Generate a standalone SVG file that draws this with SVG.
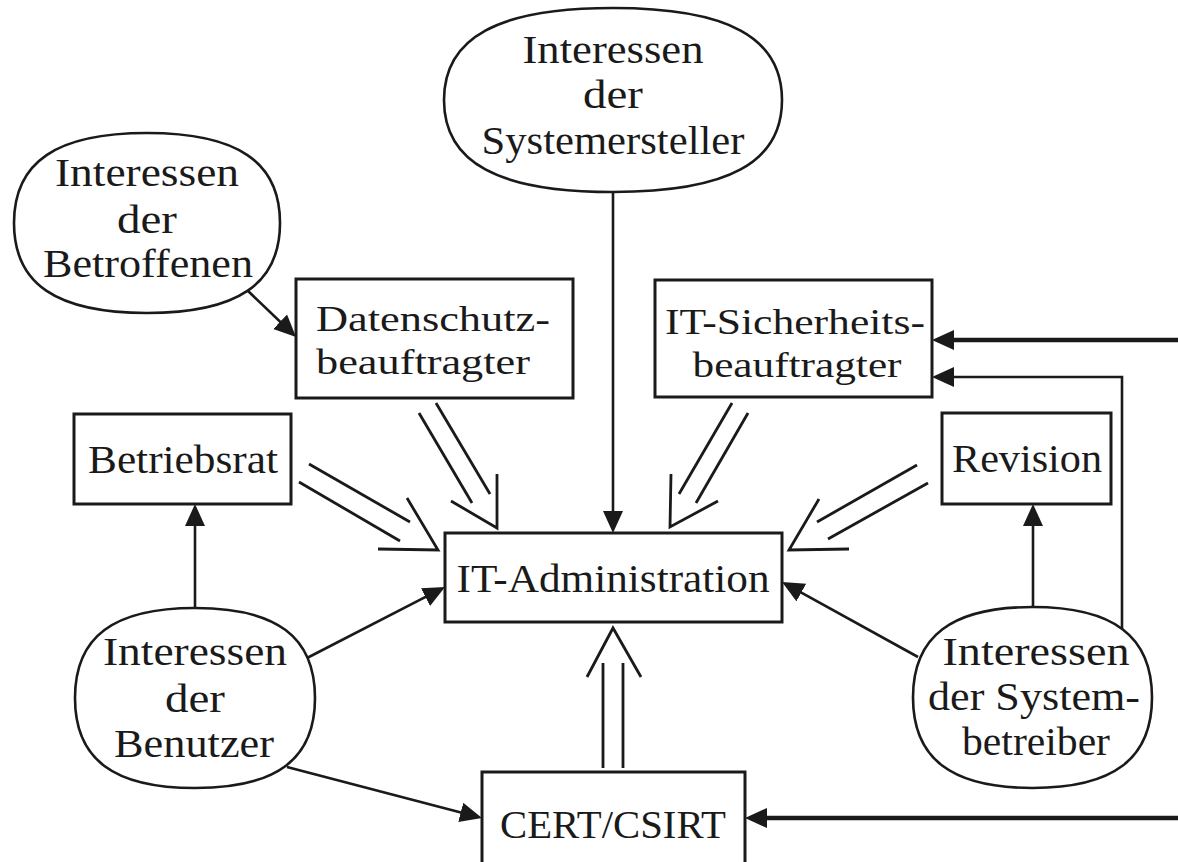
<svg xmlns="http://www.w3.org/2000/svg" width="1178" height="862" viewBox="0 0 1178 862">
<style>
.bg{fill:#ffffff}
.box{fill:#ffffff;stroke:#1a1a1a;stroke-width:3}
.oval{fill:#ffffff;stroke:#1a1a1a;stroke-width:2.6}
.t{font-family:"Liberation Serif","Times New Roman",serif;font-size:41px;fill:#1a1a1a;text-anchor:middle}
.s{font-size:36px}
.tl{text-anchor:start}
.c{fill:none;stroke:#1a1a1a;stroke-width:2.6}
.thick{stroke-width:4.6}
.dbl{fill:none;stroke:#1a1a1a;stroke-width:2.8;stroke-linecap:butt;stroke-linejoin:miter}
</style>
<defs>
<marker id="ah" markerUnits="userSpaceOnUse" markerWidth="22" markerHeight="22" refX="16" refY="10" orient="auto">
<path d="M0,0 L22,10 L0,20 Z" fill="#1a1a1a"/>
</marker>
</defs>
<rect class="bg" x="0" y="0" width="1178" height="862"/>

<g id="connectors">
<line class="c" x1="613" y1="192" x2="613" y2="527" marker-end="url(#ah)"/>
<line class="c" x1="247" y1="290" x2="291.7" y2="332.8" marker-end="url(#ah)"/>
<line class="c" x1="195" y1="608" x2="195" y2="510" marker-end="url(#ah)"/>
<line class="c" x1="307" y1="658" x2="439.7" y2="589.7" marker-end="url(#ah)"/>
<line class="c" x1="287" y1="767" x2="476.2" y2="816.5" marker-end="url(#ah)"/>
<line class="c" x1="1033" y1="607" x2="1033" y2="510" marker-end="url(#ah)"/>
<line class="c" x1="918" y1="657" x2="787.3" y2="584.9" marker-end="url(#ah)"/>
<polyline class="c" points="1122,630 1122,377 938,377" marker-end="url(#ah)"/>
<line class="c thick" x1="1178" y1="340" x2="938" y2="340" marker-end="url(#ah)"/>
<line class="c thick" x1="1178" y1="818" x2="751" y2="818" marker-end="url(#ah)"/>
<g class="dbl">
<line x1="419" y1="413" x2="472" y2="503"/>
<line x1="436" y1="403" x2="490" y2="494"/>
<polyline points="451,501 497,528 497,474"/>
<line x1="309" y1="464" x2="410" y2="522"/>
<line x1="299" y1="482" x2="400" y2="541"/>
<polyline points="407,498 438,550 378,549"/>
<line x1="732" y1="403" x2="679" y2="494"/>
<line x1="748" y1="413" x2="696" y2="503"/>
<polyline points="671,474 670,527 718,501"/>
<line x1="917" y1="465" x2="817" y2="522"/>
<line x1="928" y1="483" x2="828" y2="539"/>
<polyline points="819,499 789,550 849,549"/>
<line x1="603" y1="663" x2="603" y2="768"/>
<line x1="623" y1="663" x2="623" y2="768"/>
<polyline points="587,677 613,628 641,677"/>
</g>
</g>

<g id="systemersteller">
<path class="oval" d="M444,100 C444,37.4 498,8 613,8 C728,8 782,37.4 782,100 C782,162.6 728,192 613,192 C498,192 444,162.6 444,100 Z"/>
<text class="t" x="613" y="63" textLength="181" lengthAdjust="spacingAndGlyphs">Interessen</text>
<text class="t" x="613" y="108" textLength="60" lengthAdjust="spacingAndGlyphs">der</text>
<text class="t" x="613" y="154" textLength="263" lengthAdjust="spacingAndGlyphs">Systemersteller</text>
</g>

<g id="betroffenen">
<path class="oval" d="M14,223 C14,161.8 56.6,133 147,133 C237.4,133 280,161.8 280,223 C280,284.2 237.4,313 147,313 C56.6,313 14,284.2 14,223 Z"/>
<text class="t" x="147" y="186" textLength="184" lengthAdjust="spacingAndGlyphs">Interessen</text>
<text class="t" x="147" y="233" textLength="60" lengthAdjust="spacingAndGlyphs">der</text>
<text class="t" x="148" y="277" textLength="210" lengthAdjust="spacingAndGlyphs">Betroffenen</text>
</g>

<g id="datenschutz">
<rect class="box" x="296" y="279" width="277" height="119"/>
<text class="t s tl" x="316" y="331" textLength="234" lengthAdjust="spacingAndGlyphs">Datenschutz-</text>
<text class="t s tl" x="316" y="374" textLength="214" lengthAdjust="spacingAndGlyphs">beauftragter</text>
</g>

<g id="itsicherheit">
<rect class="box" x="655" y="280" width="277" height="117"/>
<text class="t s" x="795" y="334" textLength="260" lengthAdjust="spacingAndGlyphs">IT-Sicherheits-</text>
<text class="t s" x="797" y="377" textLength="209" lengthAdjust="spacingAndGlyphs">beauftragter</text>
</g>

<g id="betriebsrat">
<rect class="box" x="74" y="414" width="217" height="90"/>
<text class="t" x="183" y="473" textLength="190" lengthAdjust="spacingAndGlyphs">Betriebsrat</text>
</g>

<g id="revision">
<rect class="box" x="942" y="413" width="169" height="91"/>
<text class="t" x="1027" y="472" textLength="150" lengthAdjust="spacingAndGlyphs">Revision</text>
</g>

<g id="itadmin">
<rect class="box" x="445" y="533" width="337" height="89"/>
<text class="t" x="613" y="592" textLength="313" lengthAdjust="spacingAndGlyphs">IT-Administration</text>
</g>

<g id="benutzer">
<path class="oval" d="M75,698 C75,636.8 113.4,608 195,608 C276.6,608 315,636.8 315,698 C315,759.2 276.6,788 195,788 C113.4,788 75,759.2 75,698 Z"/>
<text class="t" x="195" y="665" textLength="184" lengthAdjust="spacingAndGlyphs">Interessen</text>
<text class="t" x="195" y="712" textLength="60" lengthAdjust="spacingAndGlyphs">der</text>
<text class="t" x="194" y="757" textLength="160" lengthAdjust="spacingAndGlyphs">Benutzer</text>
</g>

<g id="systembetreiber">
<path class="oval" d="M913,697.5 C913,636 951.8,607 1032.5,607 C1113.2,607 1152,636 1152,697.5 C1152,759 1113.2,788 1032.5,788 C951.8,788 913,759 913,697.5 Z"/>
<text class="t" x="1036" y="665" textLength="187" lengthAdjust="spacingAndGlyphs">Interessen</text>
<text class="t" x="1034" y="710" textLength="212" lengthAdjust="spacingAndGlyphs">der System-</text>
<text class="t" x="1036" y="755" textLength="148" lengthAdjust="spacingAndGlyphs">betreiber</text>
</g>

<g id="cert">
<rect class="box" x="482" y="772" width="263" height="100"/>
<text class="t" x="613" y="838" textLength="226" lengthAdjust="spacingAndGlyphs">CERT/CSIRT</text>
</g>
</svg>
